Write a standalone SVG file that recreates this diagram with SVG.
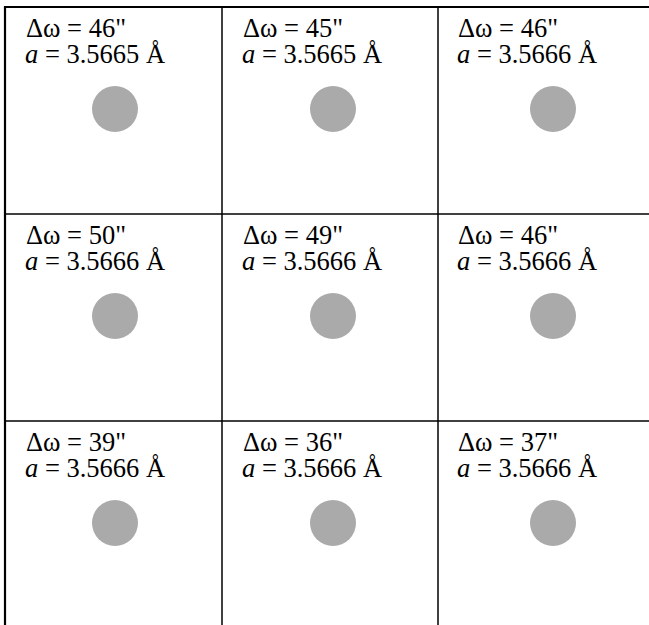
<svg xmlns="http://www.w3.org/2000/svg" width="649" height="625" viewBox="0 0 649 625">
<style>
text{font-family:'Liberation Serif','Times New Roman','DejaVu Serif',serif;font-size:26.5px;fill:#000}
.i{font-style:italic}
.dot{fill:#aaaaaa}
.g{stroke:#000;stroke-width:1.5;fill:none}
.b{stroke:#000;stroke-width:2.2;fill:none}
</style>
<rect width="649" height="625" fill="#fff"/>
<g id="grid">
<line class="b" x1="5" y1="7" x2="649" y2="7"/>
<line class="b" x1="5" y1="6" x2="5" y2="625"/>
<line class="g" x1="222" y1="7" x2="222" y2="625"/>
<line class="g" x1="438" y1="7" x2="438" y2="625"/>
<line class="g" x1="5" y1="214" x2="649" y2="214"/>
<line class="g" x1="5" y1="421" x2="649" y2="421"/>
</g>
<g id="c11"><text x="26" y="37">Δω = 46"</text><text x="25" y="63"><tspan class="i">a</tspan> = 3.5665 Å</text><circle class="dot" cx="115" cy="109" r="23"/></g>
<g id="c12"><text x="243" y="37">Δω = 45"</text><text x="242" y="63"><tspan class="i">a</tspan> = 3.5665 Å</text><circle class="dot" cx="333" cy="109" r="23"/></g>
<g id="c13"><text x="458" y="37">Δω = 46"</text><text x="457" y="63"><tspan class="i">a</tspan> = 3.5666 Å</text><circle class="dot" cx="553" cy="109" r="23"/></g>
<g id="c21"><text x="26" y="244">Δω = 50"</text><text x="25" y="270"><tspan class="i">a</tspan> = 3.5666 Å</text><circle class="dot" cx="115" cy="316" r="23"/></g>
<g id="c22"><text x="243" y="244">Δω = 49"</text><text x="242" y="270"><tspan class="i">a</tspan> = 3.5666 Å</text><circle class="dot" cx="333" cy="316" r="23"/></g>
<g id="c23"><text x="458" y="244">Δω = 46"</text><text x="457" y="270"><tspan class="i">a</tspan> = 3.5666 Å</text><circle class="dot" cx="553" cy="316" r="23"/></g>
<g id="c31"><text x="26" y="451">Δω = 39"</text><text x="25" y="477"><tspan class="i">a</tspan> = 3.5666 Å</text><circle class="dot" cx="115" cy="523" r="23"/></g>
<g id="c32"><text x="243" y="451">Δω = 36"</text><text x="242" y="477"><tspan class="i">a</tspan> = 3.5666 Å</text><circle class="dot" cx="333" cy="523" r="23"/></g>
<g id="c33"><text x="458" y="451">Δω = 37"</text><text x="457" y="477"><tspan class="i">a</tspan> = 3.5666 Å</text><circle class="dot" cx="553" cy="523" r="23"/></g>
</svg>
